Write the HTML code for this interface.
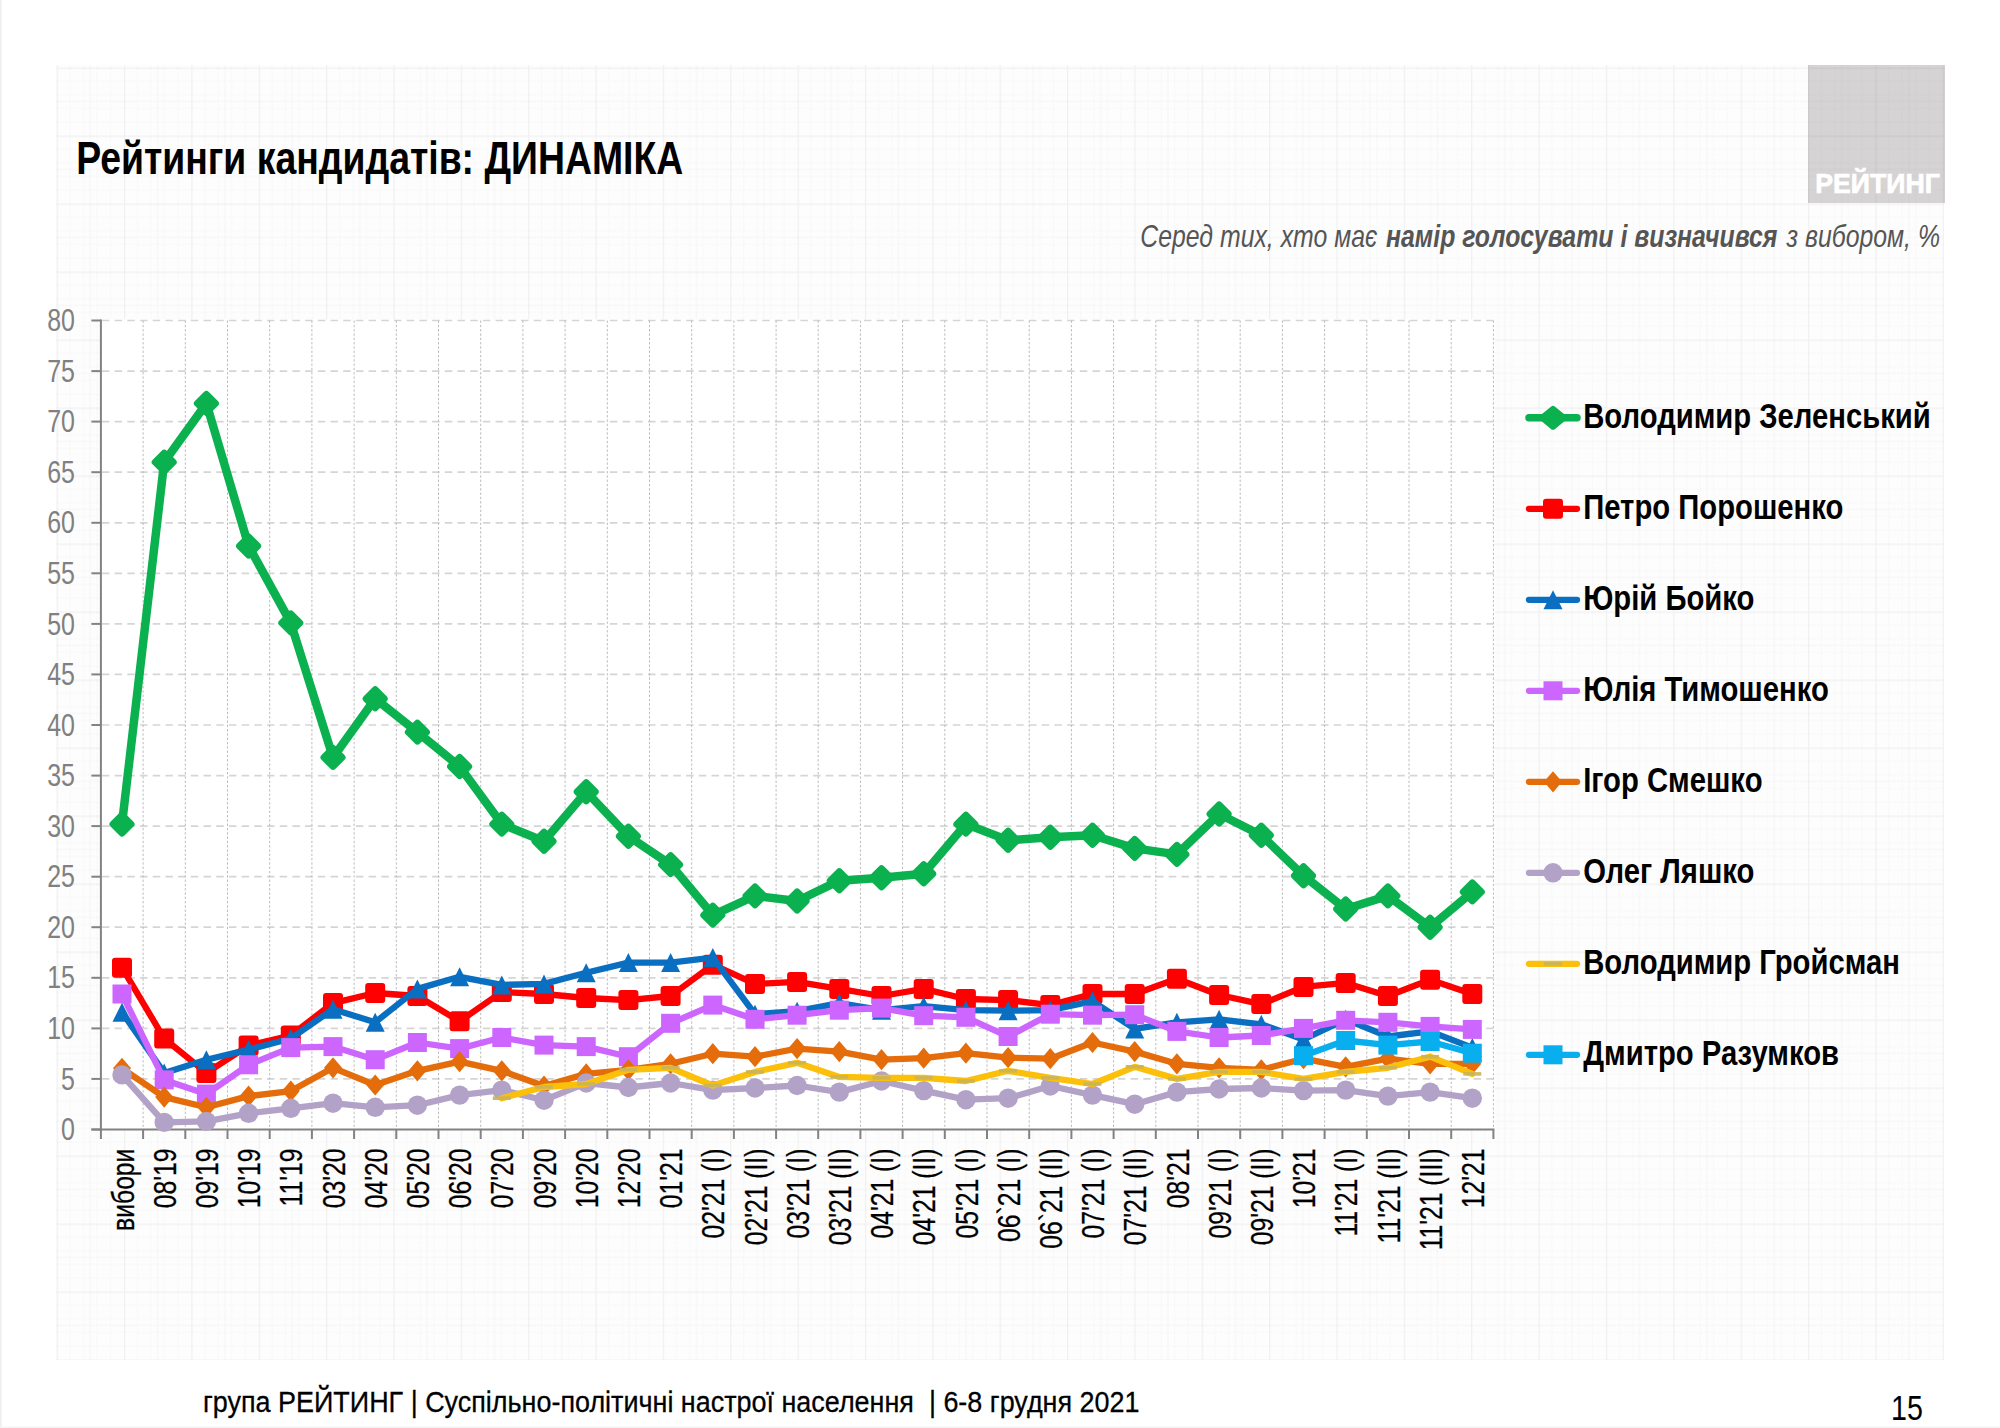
<!DOCTYPE html>
<html lang="uk"><head><meta charset="utf-8"><title>Рейтинги кандидатів: ДИНАМІКА</title>
<style>html,body{margin:0;padding:0;background:#fff}body{width:2000px;height:1428px;overflow:hidden}svg{display:block}text{font-family:"Liberation Sans",sans-serif}</style></head><body>
<svg width="2000" height="1428" viewBox="0 0 2000 1428">
<defs>
<pattern id="grid" x="56.6" y="67.5" width="67.36" height="68.00" patternUnits="userSpaceOnUse"><path d="M13.47 0V68.00 M0 13.60H67.36" stroke="#000" stroke-opacity="0.022" stroke-width="1" stroke-dasharray="3 1.5" fill="none"/><path d="M26.94 0V68.00 M0 27.20H67.36" stroke="#000" stroke-opacity="0.022" stroke-width="1" stroke-dasharray="3 1.5" fill="none"/><path d="M40.42 0V68.00 M0 40.80H67.36" stroke="#000" stroke-opacity="0.022" stroke-width="1" stroke-dasharray="3 1.5" fill="none"/><path d="M53.89 0V68.00 M0 54.40H67.36" stroke="#000" stroke-opacity="0.022" stroke-width="1" stroke-dasharray="3 1.5" fill="none"/><path d="M33.68 0V68.00 M0 34.00H67.36" stroke="#000" stroke-opacity="0.028" stroke-width="1" fill="none"/><path d="M0.6 0V68.00 M0 0.6H67.36" stroke="#000" stroke-opacity="0.05" stroke-width="1.2" fill="none"/></pattern>
</defs>
<rect width="2000" height="1428" fill="#fff"/>
<rect x="0" y="0" width="1.6" height="1428" fill="#eeeeee"/><rect x="0" y="1426.5" width="2000" height="1.5" fill="#f4f4f4"/>
<rect x="56" y="65" width="1888" height="1295" fill="#fdfdfd"/>
<rect x="56" y="65" width="1888" height="1295" fill="url(#grid)"/>
<rect x="1808" y="65" width="137" height="138" fill="#d6d3d4"/>
<rect x="1808" y="65" width="137" height="138" fill="url(#grid)"/>
<text x="1815.3" y="193.3" font-size="27.3" font-weight="bold" fill="#fff" stroke="#fff" stroke-width="0.7" textLength="124.5" lengthAdjust="spacingAndGlyphs">РЕЙТИНГ</text>
<text x="76.2" y="173.6" font-size="46" font-weight="bold" fill="#000" textLength="607" lengthAdjust="spacingAndGlyphs">Рейтинги кандидатів: ДИНАМІКА</text>
<g font-size="31.8" font-style="italic" fill="#555">
<text x="1140.3" y="246.5" textLength="237" lengthAdjust="spacingAndGlyphs">Серед тих, хто має</text>
<text x="1386" y="246.5" font-weight="bold" textLength="391.5" lengthAdjust="spacingAndGlyphs">намір голосувати і визначився</text>
<text x="1786.5" y="246.5" textLength="153.5" lengthAdjust="spacingAndGlyphs">з вибором, %</text>
</g>
<rect x="100.9" y="319.5" width="1393.5" height="810.0" fill="#fff"/>
<path d="M101.9 1078.9H1493.4" stroke="#d5d5d5" stroke-width="1.7" stroke-dasharray="7.5 5.2" fill="none"/>
<path d="M101.9 1028.4H1493.4" stroke="#d5d5d5" stroke-width="1.7" stroke-dasharray="7.5 5.2" fill="none"/>
<path d="M101.9 977.8H1493.4" stroke="#d5d5d5" stroke-width="1.7" stroke-dasharray="7.5 5.2" fill="none"/>
<path d="M101.9 927.2H1493.4" stroke="#d5d5d5" stroke-width="1.7" stroke-dasharray="7.5 5.2" fill="none"/>
<path d="M101.9 876.7H1493.4" stroke="#d5d5d5" stroke-width="1.7" stroke-dasharray="7.5 5.2" fill="none"/>
<path d="M101.9 826.1H1493.4" stroke="#d5d5d5" stroke-width="1.7" stroke-dasharray="7.5 5.2" fill="none"/>
<path d="M101.9 775.6H1493.4" stroke="#d5d5d5" stroke-width="1.7" stroke-dasharray="7.5 5.2" fill="none"/>
<path d="M101.9 725.0H1493.4" stroke="#d5d5d5" stroke-width="1.7" stroke-dasharray="7.5 5.2" fill="none"/>
<path d="M101.9 674.4H1493.4" stroke="#d5d5d5" stroke-width="1.7" stroke-dasharray="7.5 5.2" fill="none"/>
<path d="M101.9 623.9H1493.4" stroke="#d5d5d5" stroke-width="1.7" stroke-dasharray="7.5 5.2" fill="none"/>
<path d="M101.9 573.3H1493.4" stroke="#d5d5d5" stroke-width="1.7" stroke-dasharray="7.5 5.2" fill="none"/>
<path d="M101.9 522.8H1493.4" stroke="#d5d5d5" stroke-width="1.7" stroke-dasharray="7.5 5.2" fill="none"/>
<path d="M101.9 472.2H1493.4" stroke="#d5d5d5" stroke-width="1.7" stroke-dasharray="7.5 5.2" fill="none"/>
<path d="M101.9 421.6H1493.4" stroke="#d5d5d5" stroke-width="1.7" stroke-dasharray="7.5 5.2" fill="none"/>
<path d="M101.9 371.1H1493.4" stroke="#d5d5d5" stroke-width="1.7" stroke-dasharray="7.5 5.2" fill="none"/>
<path d="M101.9 320.5H1493.4" stroke="#d5d5d5" stroke-width="1.7" stroke-dasharray="7.5 5.2" fill="none"/>
<path d="M143.1 320.5V1129.5" stroke="#bcbcbc" stroke-width="1" stroke-dasharray="2.4 1.9" fill="none"/>
<path d="M185.3 320.5V1129.5" stroke="#bcbcbc" stroke-width="1" stroke-dasharray="2.4 1.9" fill="none"/>
<path d="M227.5 320.5V1129.5" stroke="#bcbcbc" stroke-width="1" stroke-dasharray="2.4 1.9" fill="none"/>
<path d="M269.7 320.5V1129.5" stroke="#bcbcbc" stroke-width="1" stroke-dasharray="2.4 1.9" fill="none"/>
<path d="M311.9 320.5V1129.5" stroke="#bcbcbc" stroke-width="1" stroke-dasharray="2.4 1.9" fill="none"/>
<path d="M354.1 320.5V1129.5" stroke="#bcbcbc" stroke-width="1" stroke-dasharray="2.4 1.9" fill="none"/>
<path d="M396.3 320.5V1129.5" stroke="#bcbcbc" stroke-width="1" stroke-dasharray="2.4 1.9" fill="none"/>
<path d="M438.5 320.5V1129.5" stroke="#bcbcbc" stroke-width="1" stroke-dasharray="2.4 1.9" fill="none"/>
<path d="M480.7 320.5V1129.5" stroke="#bcbcbc" stroke-width="1" stroke-dasharray="2.4 1.9" fill="none"/>
<path d="M522.9 320.5V1129.5" stroke="#bcbcbc" stroke-width="1" stroke-dasharray="2.4 1.9" fill="none"/>
<path d="M565.1 320.5V1129.5" stroke="#bcbcbc" stroke-width="1" stroke-dasharray="2.4 1.9" fill="none"/>
<path d="M607.3 320.5V1129.5" stroke="#bcbcbc" stroke-width="1" stroke-dasharray="2.4 1.9" fill="none"/>
<path d="M649.5 320.5V1129.5" stroke="#bcbcbc" stroke-width="1" stroke-dasharray="2.4 1.9" fill="none"/>
<path d="M691.7 320.5V1129.5" stroke="#bcbcbc" stroke-width="1" stroke-dasharray="2.4 1.9" fill="none"/>
<path d="M733.9 320.5V1129.5" stroke="#bcbcbc" stroke-width="1" stroke-dasharray="2.4 1.9" fill="none"/>
<path d="M776.1 320.5V1129.5" stroke="#bcbcbc" stroke-width="1" stroke-dasharray="2.4 1.9" fill="none"/>
<path d="M818.2 320.5V1129.5" stroke="#bcbcbc" stroke-width="1" stroke-dasharray="2.4 1.9" fill="none"/>
<path d="M860.4 320.5V1129.5" stroke="#bcbcbc" stroke-width="1" stroke-dasharray="2.4 1.9" fill="none"/>
<path d="M902.6 320.5V1129.5" stroke="#bcbcbc" stroke-width="1" stroke-dasharray="2.4 1.9" fill="none"/>
<path d="M944.8 320.5V1129.5" stroke="#bcbcbc" stroke-width="1" stroke-dasharray="2.4 1.9" fill="none"/>
<path d="M987.0 320.5V1129.5" stroke="#bcbcbc" stroke-width="1" stroke-dasharray="2.4 1.9" fill="none"/>
<path d="M1029.2 320.5V1129.5" stroke="#bcbcbc" stroke-width="1" stroke-dasharray="2.4 1.9" fill="none"/>
<path d="M1071.4 320.5V1129.5" stroke="#bcbcbc" stroke-width="1" stroke-dasharray="2.4 1.9" fill="none"/>
<path d="M1113.6 320.5V1129.5" stroke="#bcbcbc" stroke-width="1" stroke-dasharray="2.4 1.9" fill="none"/>
<path d="M1155.8 320.5V1129.5" stroke="#bcbcbc" stroke-width="1" stroke-dasharray="2.4 1.9" fill="none"/>
<path d="M1198.0 320.5V1129.5" stroke="#bcbcbc" stroke-width="1" stroke-dasharray="2.4 1.9" fill="none"/>
<path d="M1240.2 320.5V1129.5" stroke="#bcbcbc" stroke-width="1" stroke-dasharray="2.4 1.9" fill="none"/>
<path d="M1282.4 320.5V1129.5" stroke="#bcbcbc" stroke-width="1" stroke-dasharray="2.4 1.9" fill="none"/>
<path d="M1324.6 320.5V1129.5" stroke="#bcbcbc" stroke-width="1" stroke-dasharray="2.4 1.9" fill="none"/>
<path d="M1366.8 320.5V1129.5" stroke="#bcbcbc" stroke-width="1" stroke-dasharray="2.4 1.9" fill="none"/>
<path d="M1409.0 320.5V1129.5" stroke="#bcbcbc" stroke-width="1" stroke-dasharray="2.4 1.9" fill="none"/>
<path d="M1451.2 320.5V1129.5" stroke="#bcbcbc" stroke-width="1" stroke-dasharray="2.4 1.9" fill="none"/>
<path d="M1493.4 320.5V1129.5" stroke="#bcbcbc" stroke-width="1" stroke-dasharray="2.4 1.9" fill="none"/>
<path d="M100.9 319.5V1130.5" stroke="#828282" stroke-width="2" fill="none"/>
<path d="M91.4 1129.5H1494.4" stroke="#828282" stroke-width="2" fill="none"/>
<path d="M91.4 1129.5H100.9" stroke="#828282" stroke-width="2" fill="none"/>
<path d="M91.4 1078.9H100.9" stroke="#828282" stroke-width="2" fill="none"/>
<path d="M91.4 1028.4H100.9" stroke="#828282" stroke-width="2" fill="none"/>
<path d="M91.4 977.8H100.9" stroke="#828282" stroke-width="2" fill="none"/>
<path d="M91.4 927.2H100.9" stroke="#828282" stroke-width="2" fill="none"/>
<path d="M91.4 876.7H100.9" stroke="#828282" stroke-width="2" fill="none"/>
<path d="M91.4 826.1H100.9" stroke="#828282" stroke-width="2" fill="none"/>
<path d="M91.4 775.6H100.9" stroke="#828282" stroke-width="2" fill="none"/>
<path d="M91.4 725.0H100.9" stroke="#828282" stroke-width="2" fill="none"/>
<path d="M91.4 674.4H100.9" stroke="#828282" stroke-width="2" fill="none"/>
<path d="M91.4 623.9H100.9" stroke="#828282" stroke-width="2" fill="none"/>
<path d="M91.4 573.3H100.9" stroke="#828282" stroke-width="2" fill="none"/>
<path d="M91.4 522.8H100.9" stroke="#828282" stroke-width="2" fill="none"/>
<path d="M91.4 472.2H100.9" stroke="#828282" stroke-width="2" fill="none"/>
<path d="M91.4 421.6H100.9" stroke="#828282" stroke-width="2" fill="none"/>
<path d="M91.4 371.1H100.9" stroke="#828282" stroke-width="2" fill="none"/>
<path d="M91.4 320.5H100.9" stroke="#828282" stroke-width="2" fill="none"/>
<path d="M100.9 1129.5V1139.0" stroke="#828282" stroke-width="2" fill="none"/>
<path d="M143.1 1129.5V1139.0" stroke="#828282" stroke-width="2" fill="none"/>
<path d="M185.3 1129.5V1139.0" stroke="#828282" stroke-width="2" fill="none"/>
<path d="M227.5 1129.5V1139.0" stroke="#828282" stroke-width="2" fill="none"/>
<path d="M269.7 1129.5V1139.0" stroke="#828282" stroke-width="2" fill="none"/>
<path d="M311.9 1129.5V1139.0" stroke="#828282" stroke-width="2" fill="none"/>
<path d="M354.1 1129.5V1139.0" stroke="#828282" stroke-width="2" fill="none"/>
<path d="M396.3 1129.5V1139.0" stroke="#828282" stroke-width="2" fill="none"/>
<path d="M438.5 1129.5V1139.0" stroke="#828282" stroke-width="2" fill="none"/>
<path d="M480.7 1129.5V1139.0" stroke="#828282" stroke-width="2" fill="none"/>
<path d="M522.9 1129.5V1139.0" stroke="#828282" stroke-width="2" fill="none"/>
<path d="M565.1 1129.5V1139.0" stroke="#828282" stroke-width="2" fill="none"/>
<path d="M607.3 1129.5V1139.0" stroke="#828282" stroke-width="2" fill="none"/>
<path d="M649.5 1129.5V1139.0" stroke="#828282" stroke-width="2" fill="none"/>
<path d="M691.7 1129.5V1139.0" stroke="#828282" stroke-width="2" fill="none"/>
<path d="M733.9 1129.5V1139.0" stroke="#828282" stroke-width="2" fill="none"/>
<path d="M776.1 1129.5V1139.0" stroke="#828282" stroke-width="2" fill="none"/>
<path d="M818.2 1129.5V1139.0" stroke="#828282" stroke-width="2" fill="none"/>
<path d="M860.4 1129.5V1139.0" stroke="#828282" stroke-width="2" fill="none"/>
<path d="M902.6 1129.5V1139.0" stroke="#828282" stroke-width="2" fill="none"/>
<path d="M944.8 1129.5V1139.0" stroke="#828282" stroke-width="2" fill="none"/>
<path d="M987.0 1129.5V1139.0" stroke="#828282" stroke-width="2" fill="none"/>
<path d="M1029.2 1129.5V1139.0" stroke="#828282" stroke-width="2" fill="none"/>
<path d="M1071.4 1129.5V1139.0" stroke="#828282" stroke-width="2" fill="none"/>
<path d="M1113.6 1129.5V1139.0" stroke="#828282" stroke-width="2" fill="none"/>
<path d="M1155.8 1129.5V1139.0" stroke="#828282" stroke-width="2" fill="none"/>
<path d="M1198.0 1129.5V1139.0" stroke="#828282" stroke-width="2" fill="none"/>
<path d="M1240.2 1129.5V1139.0" stroke="#828282" stroke-width="2" fill="none"/>
<path d="M1282.4 1129.5V1139.0" stroke="#828282" stroke-width="2" fill="none"/>
<path d="M1324.6 1129.5V1139.0" stroke="#828282" stroke-width="2" fill="none"/>
<path d="M1366.8 1129.5V1139.0" stroke="#828282" stroke-width="2" fill="none"/>
<path d="M1409.0 1129.5V1139.0" stroke="#828282" stroke-width="2" fill="none"/>
<path d="M1451.2 1129.5V1139.0" stroke="#828282" stroke-width="2" fill="none"/>
<path d="M1493.4 1129.5V1139.0" stroke="#828282" stroke-width="2" fill="none"/>
<g font-size="30.8" fill="#808080" text-anchor="end">
<text transform="translate(75 1140.1) scale(0.81 1)">0</text>
<text transform="translate(75 1089.5) scale(0.81 1)">5</text>
<text transform="translate(75 1039.0) scale(0.81 1)">10</text>
<text transform="translate(75 988.4) scale(0.81 1)">15</text>
<text transform="translate(75 937.9) scale(0.81 1)">20</text>
<text transform="translate(75 887.3) scale(0.81 1)">25</text>
<text transform="translate(75 836.7) scale(0.81 1)">30</text>
<text transform="translate(75 786.2) scale(0.81 1)">35</text>
<text transform="translate(75 735.6) scale(0.81 1)">40</text>
<text transform="translate(75 685.0) scale(0.81 1)">45</text>
<text transform="translate(75 634.5) scale(0.81 1)">50</text>
<text transform="translate(75 583.9) scale(0.81 1)">55</text>
<text transform="translate(75 533.4) scale(0.81 1)">60</text>
<text transform="translate(75 482.8) scale(0.81 1)">65</text>
<text transform="translate(75 432.2) scale(0.81 1)">70</text>
<text transform="translate(75 381.7) scale(0.81 1)">75</text>
<text transform="translate(75 331.1) scale(0.81 1)">80</text>
</g>
<g font-size="32" fill="#000" stroke="#000" stroke-width="0.3" text-anchor="end">
<text transform="translate(133.6 1148.6) rotate(-90) scale(0.772 1)">вибори</text>
<text transform="translate(175.8 1148.6) rotate(-90) scale(0.772 1)">08'19</text>
<text transform="translate(218.0 1148.6) rotate(-90) scale(0.772 1)">09'19</text>
<text transform="translate(260.2 1148.6) rotate(-90) scale(0.772 1)">10'19</text>
<text transform="translate(302.4 1148.6) rotate(-90) scale(0.772 1)">11'19</text>
<text transform="translate(344.6 1148.6) rotate(-90) scale(0.772 1)">03'20</text>
<text transform="translate(386.8 1148.6) rotate(-90) scale(0.772 1)">04'20</text>
<text transform="translate(429.0 1148.6) rotate(-90) scale(0.772 1)">05'20</text>
<text transform="translate(471.2 1148.6) rotate(-90) scale(0.772 1)">06'20</text>
<text transform="translate(513.4 1148.6) rotate(-90) scale(0.772 1)">07'20</text>
<text transform="translate(555.6 1148.6) rotate(-90) scale(0.772 1)">09'20</text>
<text transform="translate(597.8 1148.6) rotate(-90) scale(0.772 1)">10'20</text>
<text transform="translate(640.0 1148.6) rotate(-90) scale(0.772 1)">12'20</text>
<text transform="translate(682.2 1148.6) rotate(-90) scale(0.772 1)">01'21</text>
<text transform="translate(724.4 1148.6) rotate(-90) scale(0.772 1)">02'21 (I)</text>
<text transform="translate(766.6 1148.6) rotate(-90) scale(0.772 1)">02'21 (II)</text>
<text transform="translate(808.8 1148.6) rotate(-90) scale(0.772 1)">03'21 (I)</text>
<text transform="translate(850.9 1148.6) rotate(-90) scale(0.772 1)">03'21 (II)</text>
<text transform="translate(893.1 1148.6) rotate(-90) scale(0.772 1)">04'21 (I)</text>
<text transform="translate(935.3 1148.6) rotate(-90) scale(0.772 1)">04'21 (II)</text>
<text transform="translate(977.5 1148.6) rotate(-90) scale(0.772 1)">05'21 (I)</text>
<text transform="translate(1019.7 1148.6) rotate(-90) scale(0.772 1)">06`21 (I)</text>
<text transform="translate(1061.9 1148.6) rotate(-90) scale(0.772 1)">06`21 (II)</text>
<text transform="translate(1104.1 1148.6) rotate(-90) scale(0.772 1)">07'21 (I)</text>
<text transform="translate(1146.3 1148.6) rotate(-90) scale(0.772 1)">07'21 (II)</text>
<text transform="translate(1188.5 1148.6) rotate(-90) scale(0.772 1)">08'21</text>
<text transform="translate(1230.7 1148.6) rotate(-90) scale(0.772 1)">09'21 (I)</text>
<text transform="translate(1272.9 1148.6) rotate(-90) scale(0.772 1)">09'21 (II)</text>
<text transform="translate(1315.1 1148.6) rotate(-90) scale(0.772 1)">10'21</text>
<text transform="translate(1357.3 1148.6) rotate(-90) scale(0.772 1)">11'21 (I)</text>
<text transform="translate(1399.5 1148.6) rotate(-90) scale(0.772 1)">11'21 (II)</text>
<text transform="translate(1441.7 1148.6) rotate(-90) scale(0.772 1)">11'21 (III)</text>
<text transform="translate(1483.9 1148.6) rotate(-90) scale(0.772 1)">12'21</text>
</g>
<polyline points="122.0,824.1 164.2,462.1 206.4,403.4 248.6,546.0 290.8,622.9 333.0,757.4 375.2,698.7 417.4,732.1 459.6,766.5 501.8,824.1 544.0,841.3 586.2,791.7 628.4,836.2 670.6,864.6 712.8,915.1 755.0,895.9 797.1,901.0 839.3,880.7 881.5,877.7 923.7,873.7 965.9,824.1 1008.1,840.3 1050.3,837.2 1092.5,835.2 1134.7,848.4 1176.9,854.4 1219.1,814.0 1261.3,835.2 1303.5,875.7 1345.7,909.0 1387.9,895.9 1430.1,927.2 1472.3,891.9" fill="none" stroke="#0bb04f" stroke-width="8.5" stroke-linejoin="round" stroke-linecap="round"/>
<path d="M122.0 815.1l9 9l-9 9l-9 -9z" fill="#0bb04f" stroke="#0bb04f" stroke-width="7" stroke-linejoin="round"/>
<path d="M164.2 453.1l9 9l-9 9l-9 -9z" fill="#0bb04f" stroke="#0bb04f" stroke-width="7" stroke-linejoin="round"/>
<path d="M206.4 394.4l9 9l-9 9l-9 -9z" fill="#0bb04f" stroke="#0bb04f" stroke-width="7" stroke-linejoin="round"/>
<path d="M248.6 537.0l9 9l-9 9l-9 -9z" fill="#0bb04f" stroke="#0bb04f" stroke-width="7" stroke-linejoin="round"/>
<path d="M290.8 613.9l9 9l-9 9l-9 -9z" fill="#0bb04f" stroke="#0bb04f" stroke-width="7" stroke-linejoin="round"/>
<path d="M333.0 748.4l9 9l-9 9l-9 -9z" fill="#0bb04f" stroke="#0bb04f" stroke-width="7" stroke-linejoin="round"/>
<path d="M375.2 689.7l9 9l-9 9l-9 -9z" fill="#0bb04f" stroke="#0bb04f" stroke-width="7" stroke-linejoin="round"/>
<path d="M417.4 723.1l9 9l-9 9l-9 -9z" fill="#0bb04f" stroke="#0bb04f" stroke-width="7" stroke-linejoin="round"/>
<path d="M459.6 757.5l9 9l-9 9l-9 -9z" fill="#0bb04f" stroke="#0bb04f" stroke-width="7" stroke-linejoin="round"/>
<path d="M501.8 815.1l9 9l-9 9l-9 -9z" fill="#0bb04f" stroke="#0bb04f" stroke-width="7" stroke-linejoin="round"/>
<path d="M544.0 832.3l9 9l-9 9l-9 -9z" fill="#0bb04f" stroke="#0bb04f" stroke-width="7" stroke-linejoin="round"/>
<path d="M586.2 782.7l9 9l-9 9l-9 -9z" fill="#0bb04f" stroke="#0bb04f" stroke-width="7" stroke-linejoin="round"/>
<path d="M628.4 827.2l9 9l-9 9l-9 -9z" fill="#0bb04f" stroke="#0bb04f" stroke-width="7" stroke-linejoin="round"/>
<path d="M670.6 855.6l9 9l-9 9l-9 -9z" fill="#0bb04f" stroke="#0bb04f" stroke-width="7" stroke-linejoin="round"/>
<path d="M712.8 906.1l9 9l-9 9l-9 -9z" fill="#0bb04f" stroke="#0bb04f" stroke-width="7" stroke-linejoin="round"/>
<path d="M755.0 886.9l9 9l-9 9l-9 -9z" fill="#0bb04f" stroke="#0bb04f" stroke-width="7" stroke-linejoin="round"/>
<path d="M797.1 892.0l9 9l-9 9l-9 -9z" fill="#0bb04f" stroke="#0bb04f" stroke-width="7" stroke-linejoin="round"/>
<path d="M839.3 871.7l9 9l-9 9l-9 -9z" fill="#0bb04f" stroke="#0bb04f" stroke-width="7" stroke-linejoin="round"/>
<path d="M881.5 868.7l9 9l-9 9l-9 -9z" fill="#0bb04f" stroke="#0bb04f" stroke-width="7" stroke-linejoin="round"/>
<path d="M923.7 864.7l9 9l-9 9l-9 -9z" fill="#0bb04f" stroke="#0bb04f" stroke-width="7" stroke-linejoin="round"/>
<path d="M965.9 815.1l9 9l-9 9l-9 -9z" fill="#0bb04f" stroke="#0bb04f" stroke-width="7" stroke-linejoin="round"/>
<path d="M1008.1 831.3l9 9l-9 9l-9 -9z" fill="#0bb04f" stroke="#0bb04f" stroke-width="7" stroke-linejoin="round"/>
<path d="M1050.3 828.2l9 9l-9 9l-9 -9z" fill="#0bb04f" stroke="#0bb04f" stroke-width="7" stroke-linejoin="round"/>
<path d="M1092.5 826.2l9 9l-9 9l-9 -9z" fill="#0bb04f" stroke="#0bb04f" stroke-width="7" stroke-linejoin="round"/>
<path d="M1134.7 839.4l9 9l-9 9l-9 -9z" fill="#0bb04f" stroke="#0bb04f" stroke-width="7" stroke-linejoin="round"/>
<path d="M1176.9 845.4l9 9l-9 9l-9 -9z" fill="#0bb04f" stroke="#0bb04f" stroke-width="7" stroke-linejoin="round"/>
<path d="M1219.1 805.0l9 9l-9 9l-9 -9z" fill="#0bb04f" stroke="#0bb04f" stroke-width="7" stroke-linejoin="round"/>
<path d="M1261.3 826.2l9 9l-9 9l-9 -9z" fill="#0bb04f" stroke="#0bb04f" stroke-width="7" stroke-linejoin="round"/>
<path d="M1303.5 866.7l9 9l-9 9l-9 -9z" fill="#0bb04f" stroke="#0bb04f" stroke-width="7" stroke-linejoin="round"/>
<path d="M1345.7 900.0l9 9l-9 9l-9 -9z" fill="#0bb04f" stroke="#0bb04f" stroke-width="7" stroke-linejoin="round"/>
<path d="M1387.9 886.9l9 9l-9 9l-9 -9z" fill="#0bb04f" stroke="#0bb04f" stroke-width="7" stroke-linejoin="round"/>
<path d="M1430.1 918.2l9 9l-9 9l-9 -9z" fill="#0bb04f" stroke="#0bb04f" stroke-width="7" stroke-linejoin="round"/>
<path d="M1472.3 882.9l9 9l-9 9l-9 -9z" fill="#0bb04f" stroke="#0bb04f" stroke-width="7" stroke-linejoin="round"/>
<polyline points="122.0,967.7 164.2,1038.5 206.4,1072.9 248.6,1045.6 290.8,1035.5 333.0,1003.1 375.2,993.0 417.4,996.0 459.6,1021.3 501.8,992.0 544.0,994.0 586.2,998.0 628.4,1000.1 670.6,996.0 712.8,964.7 755.0,983.9 797.1,981.9 839.3,988.9 881.5,996.0 923.7,988.9 965.9,999.0 1008.1,1000.1 1050.3,1005.1 1092.5,994.0 1134.7,994.0 1176.9,978.8 1219.1,995.0 1261.3,1004.1 1303.5,986.9 1345.7,982.9 1387.9,996.0 1430.1,979.8 1472.3,994.0" fill="none" stroke="#fe0000" stroke-width="6.3" stroke-linejoin="round" stroke-linecap="round"/>
<rect x="115.0" y="960.7" width="14" height="14" fill="#fe0000" stroke="#fe0000" stroke-width="6" stroke-linejoin="round"/>
<rect x="157.2" y="1031.5" width="14" height="14" fill="#fe0000" stroke="#fe0000" stroke-width="6" stroke-linejoin="round"/>
<rect x="199.4" y="1065.9" width="14" height="14" fill="#fe0000" stroke="#fe0000" stroke-width="6" stroke-linejoin="round"/>
<rect x="241.6" y="1038.6" width="14" height="14" fill="#fe0000" stroke="#fe0000" stroke-width="6" stroke-linejoin="round"/>
<rect x="283.8" y="1028.5" width="14" height="14" fill="#fe0000" stroke="#fe0000" stroke-width="6" stroke-linejoin="round"/>
<rect x="326.0" y="996.1" width="14" height="14" fill="#fe0000" stroke="#fe0000" stroke-width="6" stroke-linejoin="round"/>
<rect x="368.2" y="986.0" width="14" height="14" fill="#fe0000" stroke="#fe0000" stroke-width="6" stroke-linejoin="round"/>
<rect x="410.4" y="989.0" width="14" height="14" fill="#fe0000" stroke="#fe0000" stroke-width="6" stroke-linejoin="round"/>
<rect x="452.6" y="1014.3" width="14" height="14" fill="#fe0000" stroke="#fe0000" stroke-width="6" stroke-linejoin="round"/>
<rect x="494.8" y="985.0" width="14" height="14" fill="#fe0000" stroke="#fe0000" stroke-width="6" stroke-linejoin="round"/>
<rect x="537.0" y="987.0" width="14" height="14" fill="#fe0000" stroke="#fe0000" stroke-width="6" stroke-linejoin="round"/>
<rect x="579.2" y="991.0" width="14" height="14" fill="#fe0000" stroke="#fe0000" stroke-width="6" stroke-linejoin="round"/>
<rect x="621.4" y="993.1" width="14" height="14" fill="#fe0000" stroke="#fe0000" stroke-width="6" stroke-linejoin="round"/>
<rect x="663.6" y="989.0" width="14" height="14" fill="#fe0000" stroke="#fe0000" stroke-width="6" stroke-linejoin="round"/>
<rect x="705.8" y="957.7" width="14" height="14" fill="#fe0000" stroke="#fe0000" stroke-width="6" stroke-linejoin="round"/>
<rect x="748.0" y="976.9" width="14" height="14" fill="#fe0000" stroke="#fe0000" stroke-width="6" stroke-linejoin="round"/>
<rect x="790.1" y="974.9" width="14" height="14" fill="#fe0000" stroke="#fe0000" stroke-width="6" stroke-linejoin="round"/>
<rect x="832.3" y="981.9" width="14" height="14" fill="#fe0000" stroke="#fe0000" stroke-width="6" stroke-linejoin="round"/>
<rect x="874.5" y="989.0" width="14" height="14" fill="#fe0000" stroke="#fe0000" stroke-width="6" stroke-linejoin="round"/>
<rect x="916.7" y="981.9" width="14" height="14" fill="#fe0000" stroke="#fe0000" stroke-width="6" stroke-linejoin="round"/>
<rect x="958.9" y="992.0" width="14" height="14" fill="#fe0000" stroke="#fe0000" stroke-width="6" stroke-linejoin="round"/>
<rect x="1001.1" y="993.1" width="14" height="14" fill="#fe0000" stroke="#fe0000" stroke-width="6" stroke-linejoin="round"/>
<rect x="1043.3" y="998.1" width="14" height="14" fill="#fe0000" stroke="#fe0000" stroke-width="6" stroke-linejoin="round"/>
<rect x="1085.5" y="987.0" width="14" height="14" fill="#fe0000" stroke="#fe0000" stroke-width="6" stroke-linejoin="round"/>
<rect x="1127.7" y="987.0" width="14" height="14" fill="#fe0000" stroke="#fe0000" stroke-width="6" stroke-linejoin="round"/>
<rect x="1169.9" y="971.8" width="14" height="14" fill="#fe0000" stroke="#fe0000" stroke-width="6" stroke-linejoin="round"/>
<rect x="1212.1" y="988.0" width="14" height="14" fill="#fe0000" stroke="#fe0000" stroke-width="6" stroke-linejoin="round"/>
<rect x="1254.3" y="997.1" width="14" height="14" fill="#fe0000" stroke="#fe0000" stroke-width="6" stroke-linejoin="round"/>
<rect x="1296.5" y="979.9" width="14" height="14" fill="#fe0000" stroke="#fe0000" stroke-width="6" stroke-linejoin="round"/>
<rect x="1338.7" y="975.9" width="14" height="14" fill="#fe0000" stroke="#fe0000" stroke-width="6" stroke-linejoin="round"/>
<rect x="1380.9" y="989.0" width="14" height="14" fill="#fe0000" stroke="#fe0000" stroke-width="6" stroke-linejoin="round"/>
<rect x="1423.1" y="972.8" width="14" height="14" fill="#fe0000" stroke="#fe0000" stroke-width="6" stroke-linejoin="round"/>
<rect x="1465.3" y="987.0" width="14" height="14" fill="#fe0000" stroke="#fe0000" stroke-width="6" stroke-linejoin="round"/>
<polyline points="122.0,1012.2 164.2,1072.9 206.4,1059.7 248.6,1049.6 290.8,1038.5 333.0,1009.2 375.2,1022.3 417.4,988.9 459.6,976.8 501.8,984.9 544.0,983.9 586.2,972.8 628.4,962.6 670.6,962.6 712.8,957.6 755.0,1014.2 797.1,1011.2 839.3,1003.1 881.5,1010.2 923.7,1006.1 965.9,1010.2 1008.1,1010.7 1050.3,1010.2 1092.5,1001.1 1134.7,1028.9 1176.9,1022.3 1219.1,1019.3 1261.3,1024.3 1303.5,1039.5 1345.7,1019.3 1387.9,1036.5 1430.1,1031.4 1472.3,1047.6" fill="none" stroke="#0a6fc0" stroke-width="6.3" stroke-linejoin="round" stroke-linecap="round"/>
<path d="M122.0 1002.7l9.5 19h-19z" fill="#0a6fc0"/>
<path d="M164.2 1063.4l9.5 19h-19z" fill="#0a6fc0"/>
<path d="M206.4 1050.2l9.5 19h-19z" fill="#0a6fc0"/>
<path d="M248.6 1040.1l9.5 19h-19z" fill="#0a6fc0"/>
<path d="M290.8 1029.0l9.5 19h-19z" fill="#0a6fc0"/>
<path d="M333.0 999.7l9.5 19h-19z" fill="#0a6fc0"/>
<path d="M375.2 1012.8l9.5 19h-19z" fill="#0a6fc0"/>
<path d="M417.4 979.4l9.5 19h-19z" fill="#0a6fc0"/>
<path d="M459.6 967.3l9.5 19h-19z" fill="#0a6fc0"/>
<path d="M501.8 975.4l9.5 19h-19z" fill="#0a6fc0"/>
<path d="M544.0 974.4l9.5 19h-19z" fill="#0a6fc0"/>
<path d="M586.2 963.3l9.5 19h-19z" fill="#0a6fc0"/>
<path d="M628.4 953.1l9.5 19h-19z" fill="#0a6fc0"/>
<path d="M670.6 953.1l9.5 19h-19z" fill="#0a6fc0"/>
<path d="M712.8 948.1l9.5 19h-19z" fill="#0a6fc0"/>
<path d="M755.0 1004.7l9.5 19h-19z" fill="#0a6fc0"/>
<path d="M797.1 1001.7l9.5 19h-19z" fill="#0a6fc0"/>
<path d="M839.3 993.6l9.5 19h-19z" fill="#0a6fc0"/>
<path d="M881.5 1000.7l9.5 19h-19z" fill="#0a6fc0"/>
<path d="M923.7 996.6l9.5 19h-19z" fill="#0a6fc0"/>
<path d="M965.9 1000.7l9.5 19h-19z" fill="#0a6fc0"/>
<path d="M1008.1 1001.2l9.5 19h-19z" fill="#0a6fc0"/>
<path d="M1050.3 1000.7l9.5 19h-19z" fill="#0a6fc0"/>
<path d="M1092.5 991.6l9.5 19h-19z" fill="#0a6fc0"/>
<path d="M1134.7 1019.4l9.5 19h-19z" fill="#0a6fc0"/>
<path d="M1176.9 1012.8l9.5 19h-19z" fill="#0a6fc0"/>
<path d="M1219.1 1009.8l9.5 19h-19z" fill="#0a6fc0"/>
<path d="M1261.3 1014.8l9.5 19h-19z" fill="#0a6fc0"/>
<path d="M1303.5 1030.0l9.5 19h-19z" fill="#0a6fc0"/>
<path d="M1345.7 1009.8l9.5 19h-19z" fill="#0a6fc0"/>
<path d="M1387.9 1027.0l9.5 19h-19z" fill="#0a6fc0"/>
<path d="M1430.1 1021.9l9.5 19h-19z" fill="#0a6fc0"/>
<path d="M1472.3 1038.1l9.5 19h-19z" fill="#0a6fc0"/>
<polyline points="122.0,994.0 164.2,1079.9 206.4,1094.1 248.6,1064.8 290.8,1047.6 333.0,1046.6 375.2,1059.7 417.4,1042.5 459.6,1048.6 501.8,1037.5 544.0,1045.1 586.2,1046.6 628.4,1056.7 670.6,1023.3 712.8,1005.1 755.0,1019.3 797.1,1015.2 839.3,1010.2 881.5,1008.1 923.7,1015.7 965.9,1017.3 1008.1,1036.5 1050.3,1014.2 1092.5,1015.2 1134.7,1014.7 1176.9,1031.4 1219.1,1037.5 1261.3,1035.5 1303.5,1028.4 1345.7,1020.3 1387.9,1022.3 1430.1,1026.4 1472.3,1029.4" fill="none" stroke="#cc66ff" stroke-width="6.3" stroke-linejoin="round" stroke-linecap="round"/>
<rect x="112.5" y="984.5" width="19" height="19" fill="#cc66ff"/>
<rect x="154.7" y="1070.4" width="19" height="19" fill="#cc66ff"/>
<rect x="196.9" y="1084.6" width="19" height="19" fill="#cc66ff"/>
<rect x="239.1" y="1055.3" width="19" height="19" fill="#cc66ff"/>
<rect x="281.3" y="1038.1" width="19" height="19" fill="#cc66ff"/>
<rect x="323.5" y="1037.1" width="19" height="19" fill="#cc66ff"/>
<rect x="365.7" y="1050.2" width="19" height="19" fill="#cc66ff"/>
<rect x="407.9" y="1033.0" width="19" height="19" fill="#cc66ff"/>
<rect x="450.1" y="1039.1" width="19" height="19" fill="#cc66ff"/>
<rect x="492.3" y="1028.0" width="19" height="19" fill="#cc66ff"/>
<rect x="534.5" y="1035.6" width="19" height="19" fill="#cc66ff"/>
<rect x="576.7" y="1037.1" width="19" height="19" fill="#cc66ff"/>
<rect x="618.9" y="1047.2" width="19" height="19" fill="#cc66ff"/>
<rect x="661.1" y="1013.8" width="19" height="19" fill="#cc66ff"/>
<rect x="703.3" y="995.6" width="19" height="19" fill="#cc66ff"/>
<rect x="745.5" y="1009.8" width="19" height="19" fill="#cc66ff"/>
<rect x="787.6" y="1005.7" width="19" height="19" fill="#cc66ff"/>
<rect x="829.8" y="1000.7" width="19" height="19" fill="#cc66ff"/>
<rect x="872.0" y="998.6" width="19" height="19" fill="#cc66ff"/>
<rect x="914.2" y="1006.2" width="19" height="19" fill="#cc66ff"/>
<rect x="956.4" y="1007.8" width="19" height="19" fill="#cc66ff"/>
<rect x="998.6" y="1027.0" width="19" height="19" fill="#cc66ff"/>
<rect x="1040.8" y="1004.7" width="19" height="19" fill="#cc66ff"/>
<rect x="1083.0" y="1005.7" width="19" height="19" fill="#cc66ff"/>
<rect x="1125.2" y="1005.2" width="19" height="19" fill="#cc66ff"/>
<rect x="1167.4" y="1021.9" width="19" height="19" fill="#cc66ff"/>
<rect x="1209.6" y="1028.0" width="19" height="19" fill="#cc66ff"/>
<rect x="1251.8" y="1026.0" width="19" height="19" fill="#cc66ff"/>
<rect x="1294.0" y="1018.9" width="19" height="19" fill="#cc66ff"/>
<rect x="1336.2" y="1010.8" width="19" height="19" fill="#cc66ff"/>
<rect x="1378.4" y="1012.8" width="19" height="19" fill="#cc66ff"/>
<rect x="1420.6" y="1016.9" width="19" height="19" fill="#cc66ff"/>
<rect x="1462.8" y="1019.9" width="19" height="19" fill="#cc66ff"/>
<polyline points="122.0,1068.3 164.2,1097.1 206.4,1107.3 248.6,1096.1 290.8,1091.1 333.0,1067.8 375.2,1085.0 417.4,1070.8 459.6,1061.7 501.8,1070.8 544.0,1086.0 586.2,1073.9 628.4,1069.8 670.6,1063.8 712.8,1053.7 755.0,1056.7 797.1,1048.6 839.3,1051.6 881.5,1059.7 923.7,1058.2 965.9,1053.2 1008.1,1057.7 1050.3,1058.7 1092.5,1042.5 1134.7,1051.6 1176.9,1063.8 1219.1,1067.8 1261.3,1069.8 1303.5,1058.7 1345.7,1066.8 1387.9,1058.7 1430.1,1063.8 1472.3,1063.8" fill="none" stroke="#e46c0a" stroke-width="6.3" stroke-linejoin="round" stroke-linecap="round"/>
<path d="M122.0 1057.7l9.0 10.6l-9.0 10.6l-9.0 -10.6z" fill="#e46c0a"/>
<path d="M164.2 1086.5l9.0 10.6l-9.0 10.6l-9.0 -10.6z" fill="#e46c0a"/>
<path d="M206.4 1096.7l9.0 10.6l-9.0 10.6l-9.0 -10.6z" fill="#e46c0a"/>
<path d="M248.6 1085.5l9.0 10.6l-9.0 10.6l-9.0 -10.6z" fill="#e46c0a"/>
<path d="M290.8 1080.5l9.0 10.6l-9.0 10.6l-9.0 -10.6z" fill="#e46c0a"/>
<path d="M333.0 1057.2l9.0 10.6l-9.0 10.6l-9.0 -10.6z" fill="#e46c0a"/>
<path d="M375.2 1074.4l9.0 10.6l-9.0 10.6l-9.0 -10.6z" fill="#e46c0a"/>
<path d="M417.4 1060.2l9.0 10.6l-9.0 10.6l-9.0 -10.6z" fill="#e46c0a"/>
<path d="M459.6 1051.1l9.0 10.6l-9.0 10.6l-9.0 -10.6z" fill="#e46c0a"/>
<path d="M501.8 1060.2l9.0 10.6l-9.0 10.6l-9.0 -10.6z" fill="#e46c0a"/>
<path d="M544.0 1075.4l9.0 10.6l-9.0 10.6l-9.0 -10.6z" fill="#e46c0a"/>
<path d="M586.2 1063.3l9.0 10.6l-9.0 10.6l-9.0 -10.6z" fill="#e46c0a"/>
<path d="M628.4 1059.2l9.0 10.6l-9.0 10.6l-9.0 -10.6z" fill="#e46c0a"/>
<path d="M670.6 1053.2l9.0 10.6l-9.0 10.6l-9.0 -10.6z" fill="#e46c0a"/>
<path d="M712.8 1043.1l9.0 10.6l-9.0 10.6l-9.0 -10.6z" fill="#e46c0a"/>
<path d="M755.0 1046.1l9.0 10.6l-9.0 10.6l-9.0 -10.6z" fill="#e46c0a"/>
<path d="M797.1 1038.0l9.0 10.6l-9.0 10.6l-9.0 -10.6z" fill="#e46c0a"/>
<path d="M839.3 1041.0l9.0 10.6l-9.0 10.6l-9.0 -10.6z" fill="#e46c0a"/>
<path d="M881.5 1049.1l9.0 10.6l-9.0 10.6l-9.0 -10.6z" fill="#e46c0a"/>
<path d="M923.7 1047.6l9.0 10.6l-9.0 10.6l-9.0 -10.6z" fill="#e46c0a"/>
<path d="M965.9 1042.6l9.0 10.6l-9.0 10.6l-9.0 -10.6z" fill="#e46c0a"/>
<path d="M1008.1 1047.1l9.0 10.6l-9.0 10.6l-9.0 -10.6z" fill="#e46c0a"/>
<path d="M1050.3 1048.1l9.0 10.6l-9.0 10.6l-9.0 -10.6z" fill="#e46c0a"/>
<path d="M1092.5 1031.9l9.0 10.6l-9.0 10.6l-9.0 -10.6z" fill="#e46c0a"/>
<path d="M1134.7 1041.0l9.0 10.6l-9.0 10.6l-9.0 -10.6z" fill="#e46c0a"/>
<path d="M1176.9 1053.2l9.0 10.6l-9.0 10.6l-9.0 -10.6z" fill="#e46c0a"/>
<path d="M1219.1 1057.2l9.0 10.6l-9.0 10.6l-9.0 -10.6z" fill="#e46c0a"/>
<path d="M1261.3 1059.2l9.0 10.6l-9.0 10.6l-9.0 -10.6z" fill="#e46c0a"/>
<path d="M1303.5 1048.1l9.0 10.6l-9.0 10.6l-9.0 -10.6z" fill="#e46c0a"/>
<path d="M1345.7 1056.2l9.0 10.6l-9.0 10.6l-9.0 -10.6z" fill="#e46c0a"/>
<path d="M1387.9 1048.1l9.0 10.6l-9.0 10.6l-9.0 -10.6z" fill="#e46c0a"/>
<path d="M1430.1 1053.2l9.0 10.6l-9.0 10.6l-9.0 -10.6z" fill="#e46c0a"/>
<path d="M1472.3 1053.2l9.0 10.6l-9.0 10.6l-9.0 -10.6z" fill="#e46c0a"/>
<polyline points="122.0,1074.9 164.2,1122.4 206.4,1121.4 248.6,1113.3 290.8,1108.3 333.0,1103.2 375.2,1107.3 417.4,1105.2 459.6,1095.1 501.8,1090.1 544.0,1100.2 586.2,1083.0 628.4,1087.5 670.6,1083.0 712.8,1090.1 755.0,1088.0 797.1,1085.5 839.3,1092.1 881.5,1081.0 923.7,1090.6 965.9,1099.7 1008.1,1098.2 1050.3,1086.0 1092.5,1095.1 1134.7,1104.2 1176.9,1092.1 1219.1,1089.0 1261.3,1088.0 1303.5,1090.6 1345.7,1090.1 1387.9,1096.1 1430.1,1092.1 1472.3,1098.2" fill="none" stroke="#b3a2c7" stroke-width="6.3" stroke-linejoin="round" stroke-linecap="round"/>
<circle cx="122.0" cy="1074.9" r="9.7" fill="#b3a2c7"/>
<circle cx="164.2" cy="1122.4" r="9.7" fill="#b3a2c7"/>
<circle cx="206.4" cy="1121.4" r="9.7" fill="#b3a2c7"/>
<circle cx="248.6" cy="1113.3" r="9.7" fill="#b3a2c7"/>
<circle cx="290.8" cy="1108.3" r="9.7" fill="#b3a2c7"/>
<circle cx="333.0" cy="1103.2" r="9.7" fill="#b3a2c7"/>
<circle cx="375.2" cy="1107.3" r="9.7" fill="#b3a2c7"/>
<circle cx="417.4" cy="1105.2" r="9.7" fill="#b3a2c7"/>
<circle cx="459.6" cy="1095.1" r="9.7" fill="#b3a2c7"/>
<circle cx="501.8" cy="1090.1" r="9.7" fill="#b3a2c7"/>
<circle cx="544.0" cy="1100.2" r="9.7" fill="#b3a2c7"/>
<circle cx="586.2" cy="1083.0" r="9.7" fill="#b3a2c7"/>
<circle cx="628.4" cy="1087.5" r="9.7" fill="#b3a2c7"/>
<circle cx="670.6" cy="1083.0" r="9.7" fill="#b3a2c7"/>
<circle cx="712.8" cy="1090.1" r="9.7" fill="#b3a2c7"/>
<circle cx="755.0" cy="1088.0" r="9.7" fill="#b3a2c7"/>
<circle cx="797.1" cy="1085.5" r="9.7" fill="#b3a2c7"/>
<circle cx="839.3" cy="1092.1" r="9.7" fill="#b3a2c7"/>
<circle cx="881.5" cy="1081.0" r="9.7" fill="#b3a2c7"/>
<circle cx="923.7" cy="1090.6" r="9.7" fill="#b3a2c7"/>
<circle cx="965.9" cy="1099.7" r="9.7" fill="#b3a2c7"/>
<circle cx="1008.1" cy="1098.2" r="9.7" fill="#b3a2c7"/>
<circle cx="1050.3" cy="1086.0" r="9.7" fill="#b3a2c7"/>
<circle cx="1092.5" cy="1095.1" r="9.7" fill="#b3a2c7"/>
<circle cx="1134.7" cy="1104.2" r="9.7" fill="#b3a2c7"/>
<circle cx="1176.9" cy="1092.1" r="9.7" fill="#b3a2c7"/>
<circle cx="1219.1" cy="1089.0" r="9.7" fill="#b3a2c7"/>
<circle cx="1261.3" cy="1088.0" r="9.7" fill="#b3a2c7"/>
<circle cx="1303.5" cy="1090.6" r="9.7" fill="#b3a2c7"/>
<circle cx="1345.7" cy="1090.1" r="9.7" fill="#b3a2c7"/>
<circle cx="1387.9" cy="1096.1" r="9.7" fill="#b3a2c7"/>
<circle cx="1430.1" cy="1092.1" r="9.7" fill="#b3a2c7"/>
<circle cx="1472.3" cy="1098.2" r="9.7" fill="#b3a2c7"/>
<polyline points="501.8,1098.2 544.0,1087.0 586.2,1084.0 628.4,1069.8 670.6,1067.8 712.8,1085.5 755.0,1071.9 797.1,1062.8 839.3,1076.9 881.5,1077.9 923.7,1077.9 965.9,1081.0 1008.1,1070.8 1050.3,1077.9 1092.5,1084.0 1134.7,1066.8 1176.9,1078.9 1219.1,1071.9 1261.3,1071.9 1303.5,1078.9 1345.7,1071.9 1387.9,1067.8 1430.1,1056.7 1472.3,1073.9" fill="none" stroke="#fcc00a" stroke-width="6.3" stroke-linejoin="round" stroke-linecap="round"/>
<rect x="492.8" y="1096.4" width="18" height="3.6" fill="#c9b45a" opacity="0.9"/>
<rect x="535.0" y="1085.2" width="18" height="3.6" fill="#c9b45a" opacity="0.9"/>
<rect x="577.2" y="1082.2" width="18" height="3.6" fill="#c9b45a" opacity="0.9"/>
<rect x="619.4" y="1068.0" width="18" height="3.6" fill="#c9b45a" opacity="0.9"/>
<rect x="661.6" y="1066.0" width="18" height="3.6" fill="#c9b45a" opacity="0.9"/>
<rect x="703.8" y="1083.7" width="18" height="3.6" fill="#c9b45a" opacity="0.9"/>
<rect x="746.0" y="1070.1" width="18" height="3.6" fill="#c9b45a" opacity="0.9"/>
<rect x="788.1" y="1061.0" width="18" height="3.6" fill="#c9b45a" opacity="0.9"/>
<rect x="830.3" y="1075.1" width="18" height="3.6" fill="#c9b45a" opacity="0.9"/>
<rect x="872.5" y="1076.1" width="18" height="3.6" fill="#c9b45a" opacity="0.9"/>
<rect x="914.7" y="1076.1" width="18" height="3.6" fill="#c9b45a" opacity="0.9"/>
<rect x="956.9" y="1079.2" width="18" height="3.6" fill="#c9b45a" opacity="0.9"/>
<rect x="999.1" y="1069.0" width="18" height="3.6" fill="#c9b45a" opacity="0.9"/>
<rect x="1041.3" y="1076.1" width="18" height="3.6" fill="#c9b45a" opacity="0.9"/>
<rect x="1083.5" y="1082.2" width="18" height="3.6" fill="#c9b45a" opacity="0.9"/>
<rect x="1125.7" y="1065.0" width="18" height="3.6" fill="#c9b45a" opacity="0.9"/>
<rect x="1167.9" y="1077.1" width="18" height="3.6" fill="#c9b45a" opacity="0.9"/>
<rect x="1210.1" y="1070.1" width="18" height="3.6" fill="#c9b45a" opacity="0.9"/>
<rect x="1252.3" y="1070.1" width="18" height="3.6" fill="#c9b45a" opacity="0.9"/>
<rect x="1294.5" y="1077.1" width="18" height="3.6" fill="#c9b45a" opacity="0.9"/>
<rect x="1336.7" y="1070.1" width="18" height="3.6" fill="#c9b45a" opacity="0.9"/>
<rect x="1378.9" y="1066.0" width="18" height="3.6" fill="#c9b45a" opacity="0.9"/>
<rect x="1421.1" y="1054.9" width="18" height="3.6" fill="#c9b45a" opacity="0.9"/>
<rect x="1463.3" y="1072.1" width="18" height="3.6" fill="#c9b45a" opacity="0.9"/>
<polyline points="1303.5,1055.7 1345.7,1040.5 1387.9,1045.1 1430.1,1041.5 1472.3,1053.2" fill="none" stroke="#08aeee" stroke-width="6.3" stroke-linejoin="round" stroke-linecap="round"/>
<rect x="1294.0" y="1046.2" width="19" height="19" fill="#08aeee"/>
<rect x="1336.2" y="1031.0" width="19" height="19" fill="#08aeee"/>
<rect x="1378.4" y="1035.6" width="19" height="19" fill="#08aeee"/>
<rect x="1420.6" y="1032.0" width="19" height="19" fill="#08aeee"/>
<rect x="1462.8" y="1043.7" width="19" height="19" fill="#08aeee"/>
<g font-size="35.9" font-weight="bold" fill="#000">
<path d="M1529 417.8H1577" stroke="#0bb04f" stroke-width="7.5" stroke-linecap="round" fill="none"/>
<path d="M1553.0 409.2l10.5 8.6l-10.5 8.6l-10.5 -8.6z" fill="#0bb04f" stroke="#0bb04f" stroke-width="6.5" stroke-linejoin="round"/>
<text transform="translate(1583.2 428) scale(0.815 1)">Володимир Зеленський</text>
<path d="M1529 508.8H1577" stroke="#fe0000" stroke-width="6.3" stroke-linecap="round" fill="none"/>
<rect x="1546.0" y="501.8" width="14" height="14" fill="#fe0000" stroke="#fe0000" stroke-width="6" stroke-linejoin="round"/>
<text transform="translate(1583.2 519) scale(0.815 1)">Петро Порошенко</text>
<path d="M1529 599.8H1577" stroke="#0a6fc0" stroke-width="6.3" stroke-linecap="round" fill="none"/>
<path d="M1553.0 590.3l9.5 19h-19z" fill="#0a6fc0"/>
<text transform="translate(1583.2 610) scale(0.815 1)">Юрій Бойко</text>
<path d="M1529 690.8H1577" stroke="#cc66ff" stroke-width="6.3" stroke-linecap="round" fill="none"/>
<rect x="1543.5" y="681.3" width="19" height="19" fill="#cc66ff"/>
<text transform="translate(1583.2 701) scale(0.815 1)">Юлія Тимошенко</text>
<path d="M1529 781.8H1577" stroke="#e46c0a" stroke-width="6.3" stroke-linecap="round" fill="none"/>
<path d="M1553.0 771.2l9.0 10.6l-9.0 10.6l-9.0 -10.6z" fill="#e46c0a"/>
<text transform="translate(1583.2 792) scale(0.815 1)">Ігор Смешко</text>
<path d="M1529 872.8H1577" stroke="#b3a2c7" stroke-width="6.3" stroke-linecap="round" fill="none"/>
<circle cx="1553.0" cy="872.8" r="9.7" fill="#b3a2c7"/>
<text transform="translate(1583.2 883) scale(0.815 1)">Олег Ляшко</text>
<path d="M1529 963.8H1577" stroke="#fcc00a" stroke-width="6.3" stroke-linecap="round" fill="none"/>
<rect x="1544.0" y="962.0" width="18" height="3.6" fill="#c9b45a" opacity="0.9"/>
<text transform="translate(1583.2 974) scale(0.815 1)">Володимир Гройсман</text>
<path d="M1529 1054.8H1577" stroke="#08aeee" stroke-width="6.3" stroke-linecap="round" fill="none"/>
<rect x="1543.5" y="1045.3" width="19" height="19" fill="#08aeee"/>
<text transform="translate(1583.2 1065) scale(0.815 1)">Дмитро Разумков</text>
</g>
<text x="203" y="1411.7" font-size="30.4" fill="#000" stroke="#000" stroke-width="0.3" textLength="936.5" lengthAdjust="spacingAndGlyphs" style="white-space:pre" xml:space="preserve">група РЕЙТИНГ | Суспільно-політичні настрої населення  | 6-8 грудня 2021</text>
<text transform="translate(1891 1419.6) scale(0.805 1)" font-size="35.6" fill="#000">15</text>
</svg></body></html>
